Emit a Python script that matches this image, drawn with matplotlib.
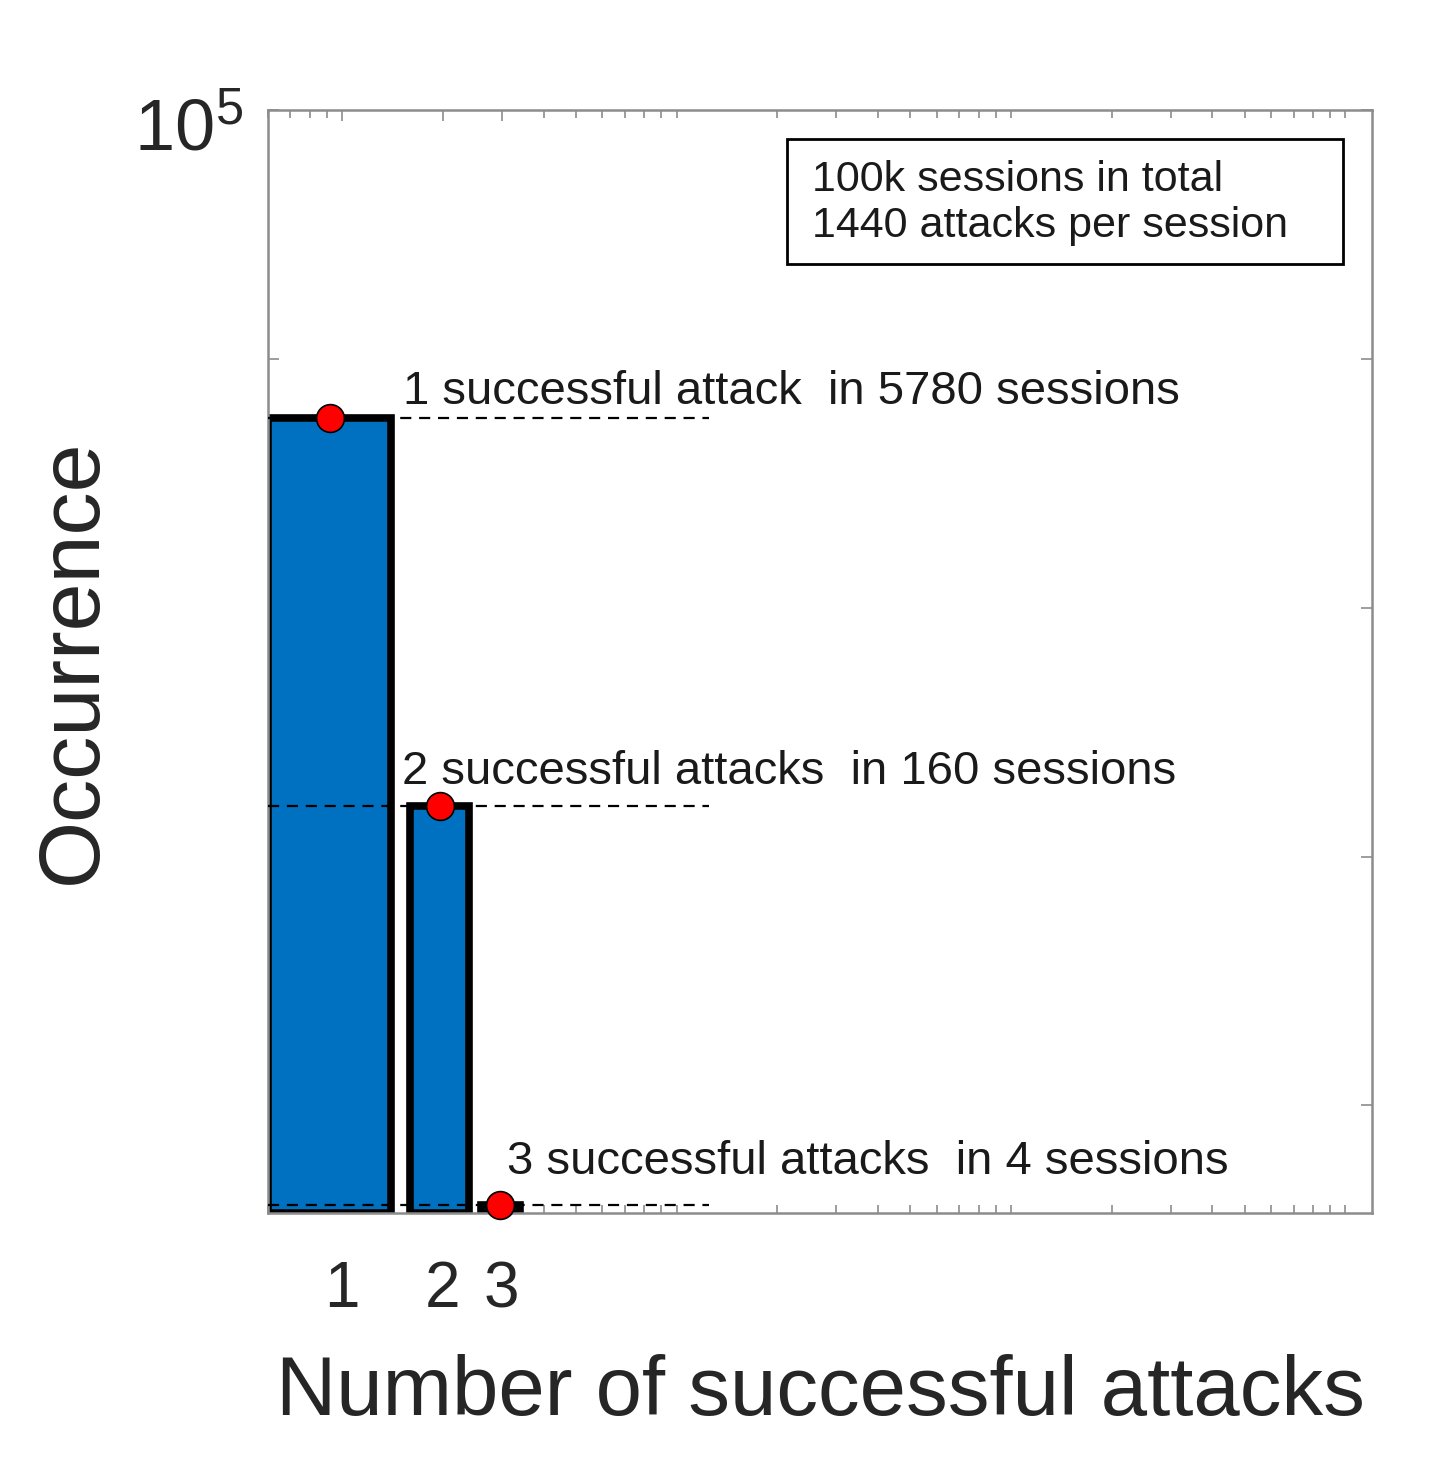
import numpy as np
import matplotlib
matplotlib.use('Agg')
import matplotlib.pyplot as plt
from matplotlib.patches import Rectangle
from matplotlib.transforms import ScaledTranslation
from matplotlib.ticker import LogLocator, NullLocator, NullFormatter, FixedLocator

plt.rcParams['font.family'] = ['Liberation Sans', 'DejaVu Sans']
plt.rcParams['mathtext.fontset'] = 'custom'
plt.rcParams['mathtext.rm'] = 'Liberation Sans'

# data
attacks = [1, 2, 3]
sessions = [5780, 160, 4]
labels = ['1 successful attack  in 5780 sessions',
          '2 successful attacks  in 160 sessions',
          '3 successful attacks  in 4 sessions']
label_x = [1.52, 1.51, 3.1]
label_dy = [4, 12, 21]
info = '100k sessions in total\n1440 attacks per session'

bar_w = 0.8
y_bottom = 3.7
blue = '#0070C0'
grey = '#8c8c8c'

fig = plt.figure(figsize=(14.30, 14.57), dpi=100)
ax = fig.add_axes([0.1874, 0.1675, 0.7720, 0.7570])
ax.set_xscale('log')
ax.set_yscale('log')

x = np.array(attacks, dtype=float)
y = np.array(sessions, dtype=float)
left = x - bar_w / 2
right = x + bar_w / 2

ax.bar(left, y - y_bottom, width=right - left, align='edge', bottom=y_bottom,
       color=blue, edgecolor='black', linewidth=5.5, zorder=2)

# dashed guides from axis edge
for v in y:
    ax.plot([0.6, 12.5], [v, v], ls=(0, (5, 3.5)), color='black', lw=1.6, zorder=3)

# red markers at visual bar centres
ax.plot(np.sqrt(left * right), y, 'o', ms=20, mfc='red', mec='black',
        mew=1.2, zorder=5, clip_on=False)

for lx, dy, v, t in zip(label_x, label_dy, y, labels):
    ax.annotate(t, xy=(lx, v), xytext=(0, dy), textcoords='offset pixels',
                ha='left', va='bottom', fontsize=34, color='#1a1a1a')

# info box
ax.add_patch(Rectangle((0.470, 0.860), 0.504, 0.114, transform=ax.transAxes,
                       fc='white', ec='black', lw=2, zorder=4))
ax.text(0.493, 0.916, info, transform=ax.transAxes, ha='left', va='center',
        fontsize=31, linespacing=1.2, color='#1a1a1a', zorder=5)

ax.set_xlim(0.6, 1200)
ax.set_ylim(y_bottom, 1e5)

ax.xaxis.set_major_locator(FixedLocator(attacks))
ax.set_xticklabels([str(a) for a in attacks])
ax.xaxis.set_minor_locator(LogLocator(base=10, subs=np.arange(1, 10)))
ax.xaxis.set_minor_formatter(NullFormatter())

ax.yaxis.set_major_locator(FixedLocator([1e1, 1e2, 1e3, 1e4, 1e5]))
ax.set_yticklabels(['', '', '', '', r'$\mathregular{10^5}$'])
ax.yaxis.set_minor_locator(NullLocator())

ax.tick_params(axis='both', which='both', direction='in', top=True, right=True,
               color=grey, width=1.2)
ax.tick_params(axis='x', which='major', length=8, pad=34, labelsize=46,
               labelcolor='#262626')
ax.tick_params(axis='x', which='minor', length=6)
ax.tick_params(axis='y', which='major', length=8, pad=18, labelsize=52,
               labelcolor='#262626')
for lab in ax.get_yticklabels():
    lab.set_transform(lab.get_transform() +
                      ScaledTranslation(0, -0.14, fig.dpi_scale_trans))

for s in ax.spines.values():
    s.set_color(grey)
    s.set_linewidth(1.8)

ax.set_xlabel('Number of successful attacks', fontsize=60, color='#262626')
ax.set_ylabel('Occurrence', fontsize=62, color='#262626')
ax.xaxis.set_label_coords(0.5, -0.128)
ax.yaxis.set_label_coords(-0.140, 0.5)

fig.savefig('out.png', dpi=100, facecolor='white')
